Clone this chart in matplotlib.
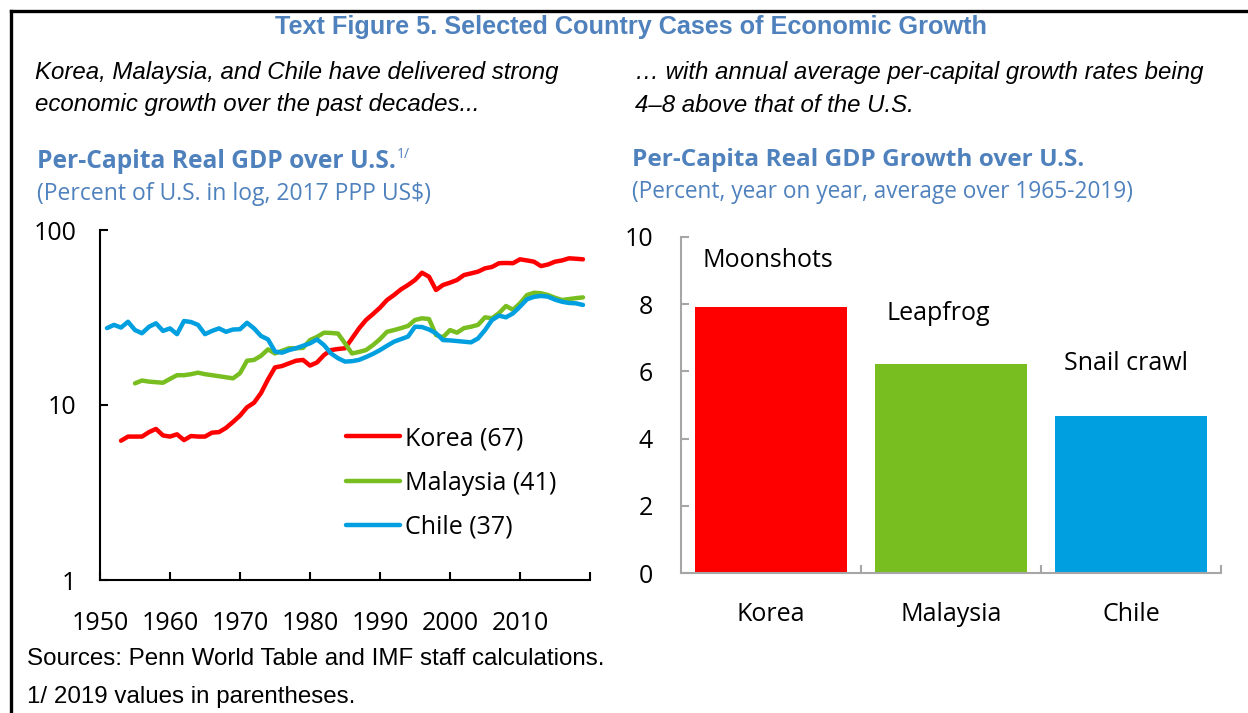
import matplotlib.pyplot as plt
from matplotlib.lines import Line2D
import numpy as np

# ---- data ----
korea_years = list(range(1953, 2020))
korea = [6.25, 6.6, 6.6, 6.6, 7.0, 7.3, 6.7, 6.6, 6.8, 6.3,
         6.65, 6.6, 6.6, 6.95, 7.0, 7.4, 8.0, 8.7, 9.7, 10.3,
         11.7, 14.0, 16.4, 16.7, 17.3, 17.9, 18.1, 16.8, 17.5, 19.3,
         20.6, 20.9, 21.1, 24.0, 27.4, 30.6, 33.1, 36.0, 39.8, 42.5,
         45.8, 48.5, 51.8, 57.0, 54.1, 45.4, 48.5, 50.0, 51.8, 55.3,
         56.5, 57.8, 60.4, 61.5, 64.6, 64.8, 64.6, 68.0, 67.0, 65.9,
         62.2, 63.5, 65.9, 67.0, 68.9, 68.5, 68.0]

malaysia_years = list(range(1955, 2020))
malaysia = [13.3, 13.8, 13.6, 13.5, 13.4, 14.1, 14.8, 14.8, 15.0, 15.3,
            15.0, 14.8, 14.6, 14.4, 14.2, 15.2, 17.9, 18.1, 19.1, 20.8,
            19.7, 20.4, 21.1, 21.1, 21.2, 23.5, 24.5, 25.9, 25.8, 25.6,
            22.5, 19.7, 20.1, 20.6, 22.0, 23.8, 26.2, 26.8, 27.5, 28.3,
            30.6, 31.3, 31.0, 25.1, 24.4, 26.8, 25.9, 27.5, 28.0, 28.7,
            31.7, 31.3, 33.5, 36.8, 35.0, 38.1, 42.5, 43.8, 43.5, 42.5,
            41.0, 39.8, 40.3, 40.8, 41.2]

chile_years = list(range(1951, 2020))
chile = [27.5, 28.7, 27.7, 29.9, 26.8, 25.7, 28.0, 29.3, 26.5, 27.4,
         25.4, 30.2, 29.8, 28.7, 25.4, 26.5, 27.4, 26.2, 27.0, 27.1,
         29.5, 27.4, 24.8, 23.7, 20.2, 19.9, 20.6, 21.1, 21.8, 22.5,
         23.7, 22.0, 19.7, 18.5, 17.7, 17.8, 18.1, 18.8, 19.6, 20.6,
         21.8, 23.0, 23.8, 24.6, 28.0, 27.9, 27.0, 25.7, 23.5, 23.4,
         23.2, 23.0, 22.8, 24.0, 26.8, 30.6, 32.4, 31.7, 33.4, 36.5,
         40.2, 41.5, 42.0, 41.6, 40.0, 38.9, 38.3, 38.1, 37.3]

legend_labels = ["Korea (67)", "Malaysia (41)", "Chile (37)"]

bar_countries = ["Korea", "Malaysia", "Chile"]
bar_growth = [7.9, 6.22, 4.67]
bar_notes = ["Moonshots", "Leapfrog", "Snail crawl"]

# colours
RED = "#ff0000"
GREEN = "#78be20"
BLUE = "#009fdf"
TITLE_BLUE = "#4f81bd"
GRAY = "#a6a6a6"

UI_FONT = ["Open Sans", "DejaVu Sans"]
ARIAL = ["Liberation Sans", "DejaVu Sans"]
W, H = 1248, 713

fig = plt.figure(figsize=(12.48, 7.13), dpi=100)
fig.patch.set_facecolor("white")

# frame lines (top and left only)
fig.add_artist(Line2D([11 / W, 1], [1 - 11 / H, 1 - 11 / H],
                      color="black", lw=2.4, transform=fig.transFigure))
fig.add_artist(Line2D([11 / W, 11 / W], [0, 1 - 11 / H],
                      color="black", lw=2.4, transform=fig.transFigure))

# ---- headings ----
fig.text(631 / W, 1 - 27 / H,
         "Text Figure 5. Selected Country Cases of Economic Growth",
         ha="center", va="center", fontsize=18.2, fontweight="bold",
         color=TITLE_BLUE, family=ARIAL)

fig.text(35 / W, 1 - 73 / H,
         "Korea, Malaysia, and Chile have delivered strong",
         ha="left", va="center", fontsize=17.25, style="italic", family=ARIAL)
fig.text(35 / W, 1 - 105 / H,
         "economic growth over the past decades...",
         ha="left", va="center", fontsize=17.25, style="italic", family=ARIAL)
fig.text(635 / W, 1 - 73 / H,
         "\u2026 with annual average per-capital growth rates being",
         ha="left", va="center", fontsize=17.3, style="italic", family=ARIAL)
fig.text(635 / W, 1 - 105 / H,
         "4\u20138 above that of the U.S.",
         ha="left", va="center", fontsize=17.3, style="italic", family=ARIAL)

left_head = fig.text(37 / W, 1 - 162 / H, "Per-Capita Real GDP over U.S.",
                     ha="left", va="center", fontsize=17.7,
                     fontweight="bold", color=TITLE_BLUE, family=UI_FONT)
fig.text(37 / W, 1 - 194 / H,
         "(Percent of U.S. in log, 2017 PPP US$)",
         ha="left", va="center", fontsize=16.5, color=TITLE_BLUE,
         family=UI_FONT)
fig.text(632 / W, 1 - 160 / H,
         "Per-Capita Real GDP Growth over U.S.",
         ha="left", va="center", fontsize=17.6, fontweight="bold",
         color=TITLE_BLUE, family=UI_FONT)
fig.text(632 / W, 1 - 192 / H,
         "(Percent, year on year, average over 1965-2019)",
         ha="left", va="center", fontsize=16.3, color=TITLE_BLUE,
         family=UI_FONT)

fig.text(27 / W, 1 - 659 / H,
         "Sources: Penn World Table and IMF staff calculations.",
         ha="left", va="center", fontsize=17.35, family=ARIAL)
fig.text(27 / W, 1 - 697 / H,
         "1/ 2019 values in parentheses.",
         ha="left", va="center", fontsize=17.35, family=ARIAL)

# ---- left panel: log line chart ----
ax1 = fig.add_axes([100 / W, 1 - 580 / H, 490 / W, 350 / H])
ax1.plot(korea_years, korea, color=RED, lw=3.2, solid_capstyle="round",
         label=legend_labels[0])
ax1.plot(malaysia_years, malaysia, color=GREEN, lw=3.2, solid_capstyle="round",
         label=legend_labels[1])
ax1.plot(chile_years, chile, color=BLUE, lw=3.2, solid_capstyle="round",
         label=legend_labels[2])
ax1.set_yscale("log")
ax1.set_ylim(1, 100)
ax1.set_xlim(1950, 2020)
ax1.set_yticks([1, 10, 100])
ax1.set_yticklabels(["1", "10", "100"])
ax1.minorticks_off()
ax1.set_xticks(range(1950, 2030, 10))
ax1.set_xticklabels([str(y) for y in range(1950, 2020, 10)] + [""])
for s in ["top", "right"]:
    ax1.spines[s].set_visible(False)
for s in ["left", "bottom"]:
    ax1.spines[s].set_linewidth(1.5)
    ax1.spines[s].set_color("black")
ax1.tick_params(axis="both", direction="in", length=6, width=1.5,
                labelsize=18, color="black")
ax1.tick_params(axis="x", pad=22)
ax1.tick_params(axis="y", pad=17)
for lab in ax1.get_xticklabels() + ax1.get_yticklabels():
    lab.set_family(UI_FONT)

# footnote marker right after the heading
ax1.annotate("1/", xy=(1, 0.78), xycoords=left_head, xytext=(1, 0),
             textcoords="offset points", ha="left", va="center",
             fontsize=10, color=TITLE_BLUE, family=UI_FONT,
             annotation_clip=False)

leg = ax1.legend(loc="upper left", bbox_to_anchor=(246 / 490, 154 / 350),
                 frameon=False, handlelength=2.15,
                 handletextpad=0.2, labelspacing=0.78, borderpad=0,
                 borderaxespad=0, prop={"family": UI_FONT, "size": 18})

# ---- right panel: bars ----
ax2 = fig.add_axes([681 / W, 1 - 573.3 / H, 540 / W, 336.6 / H])
xpos = np.arange(len(bar_countries))
ax2.bar(xpos, bar_growth, width=0.84, color=[RED, GREEN, BLUE])
ax2.set_xlim(-0.5, 2.5)
ax2.set_ylim(0, 10)
ax2.set_yticks(range(0, 11, 2))
ax2.set_xticks(xpos)
ax2.set_xticklabels(bar_countries)
ax2.set_xticks([0.5, 1.5, 2.5], minor=True)
for s in ["top", "right"]:
    ax2.spines[s].set_visible(False)
for s in ["left", "bottom"]:
    ax2.spines[s].set_linewidth(1.5)
    ax2.spines[s].set_color(GRAY)
ax2.tick_params(axis="y", direction="in", length=6, width=1.5, color=GRAY,
                labelsize=18, pad=20)
ax2.tick_params(axis="x", which="major", length=0, labelsize=18, pad=21)
ax2.tick_params(axis="x", which="minor", direction="in", length=6,
                width=1.5, color=GRAY)
for lab in ax2.get_xticklabels() + ax2.get_yticklabels():
    lab.set_family(UI_FONT)

note_pos = [(-0.38, 9.3), (0.64, 7.73), (1.63, 6.22)]
for (nx, ny), note in zip(note_pos, bar_notes):
    ax2.text(nx, ny, note, ha="left", va="center", fontsize=18,
             family=UI_FONT)

fig.savefig("out.png", dpi=100, facecolor="white")
